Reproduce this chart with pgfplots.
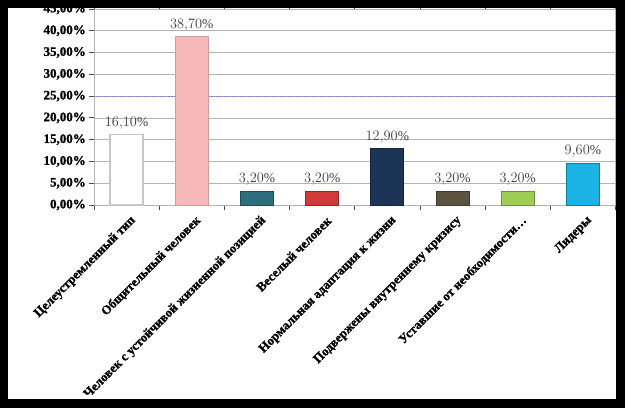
\documentclass[border=0pt]{standalone}
\usepackage{fontspec}
\setmainfont{Liberation Serif}
\newfontfamily\labfont[FakeBold=1.2]{Liberation Serif}
\usepackage{pgfplots}
\pgfplotsset{compat=1.18}
\definecolor{c1}{HTML}{FFFFFF}
\definecolor{c2}{HTML}{F6B8B8}
\definecolor{c3}{HTML}{2C6E7C}
\definecolor{c4}{HTML}{CF3A3A}
\definecolor{c5}{HTML}{1C3557}
\definecolor{c6}{HTML}{5B5240}
\definecolor{c7}{HTML}{9ECC55}
\definecolor{c8}{HTML}{1BB3E6}
\definecolor{gridc}{HTML}{B4B4B4}
\definecolor{lblc}{HTML}{404040}
\begin{document}
\begin{tikzpicture}[x=1pt,y=1pt]
\useasboundingbox (0,0) rectangle (625,408);
\fill[white] (0,0) rectangle (625,408);
\begin{axis}[
  at={(94pt,203pt)}, anchor=south west,
  scale only axis, width=521.5pt, height=196pt,
  xmin=-0.5, xmax=7.5, ymin=0, ymax=45,
  axis line style={gridc},
  x axis line style={black!65},
  xtick={0,1,2,3,4,5,6,7},
  xticklabels={{Целеустремленный тип}, {Общительный человек}, {Человек с устойчивой жизненной позицией}, {Веселый человек}, {Нормальная адаптация к жизни}, {Подвержены внутреннему кризису}, {Уставшие от необходимости\ldots}, {Лидеры}},
  major x tick style={draw=none},
  minor xtick={-0.5,0.5,1.5,2.5,3.5,4.5,5.5,6.5,7.5},
  minor x tick style={black!70, line width=0.8pt},
  minor tick length=5pt,
  tick align=outside,
  xticklabel style={rotate=45, anchor=east, font=\labfont\fontsize{12.8}{12.8}\selectfont\bfseries, inner sep=1pt, yshift=-11pt, xshift=0pt},
  ytick={0,5,10,15,20,25,30,35,40,45},
  yticklabels={{0,00\%},{5,00\%},{10,00\%},{15,00\%},{20,00\%},{25,00\%},{30,00\%},{35,00\%},{40,00\%},{45,00\%}},
  yticklabel style={font=\labfont\fontsize{13}{13}\selectfont\bfseries, inner sep=1pt, xshift=-2pt},
  major y tick style={black!70, line width=0.8pt},
  major tick length=5pt,
  ymajorgrids, grid style={gridc, line width=0.6pt},
  extra y ticks={25},
  extra y tick labels={},
  extra y tick style={grid style={blue!45!gray!70, densely dotted, line width=0.7pt}},
  every axis plot/.append style={ybar, bar width=33pt, bar shift=0pt, line width=0.8pt},
  nodes near coords={\pgfmathprintnumber[fixed,fixed zerofill,precision=2,use comma]{\pgfplotspointmeta}\%},
  every node near coord/.append style={font=\fontsize{13.5}{13.5}\selectfont, text=lblc, inner sep=2pt, yshift=3pt},
  clip=false,
]
\addplot[fill=c1, draw=black!22, line width=1.2pt] coordinates {(0,16.1)};
\addplot[fill=c2, draw=c2!85!black] coordinates {(1,38.7)};
\addplot[fill=c3, draw=c3!70!black] coordinates {(2,3.2)};
\addplot[fill=c4, draw=c4!70!black] coordinates {(3,3.2)};
\addplot[fill=c5, draw=c5!70!black] coordinates {(4,12.9)};
\addplot[fill=c6, draw=c6!70!black] coordinates {(5,3.2)};
\addplot[fill=c7, draw=c7!70!black] coordinates {(6,3.2)};
\addplot[fill=c8, draw=c8!70!black] coordinates {(7,9.6)};
\end{axis}
\fill[black] (0,0) rectangle (625,9);
\fill[black] (0,0) rectangle (8,408);
\fill[black] (616,0) rectangle (625,408);
\fill[black] (0,400) rectangle (625,408);
\end{tikzpicture}
\end{document}
